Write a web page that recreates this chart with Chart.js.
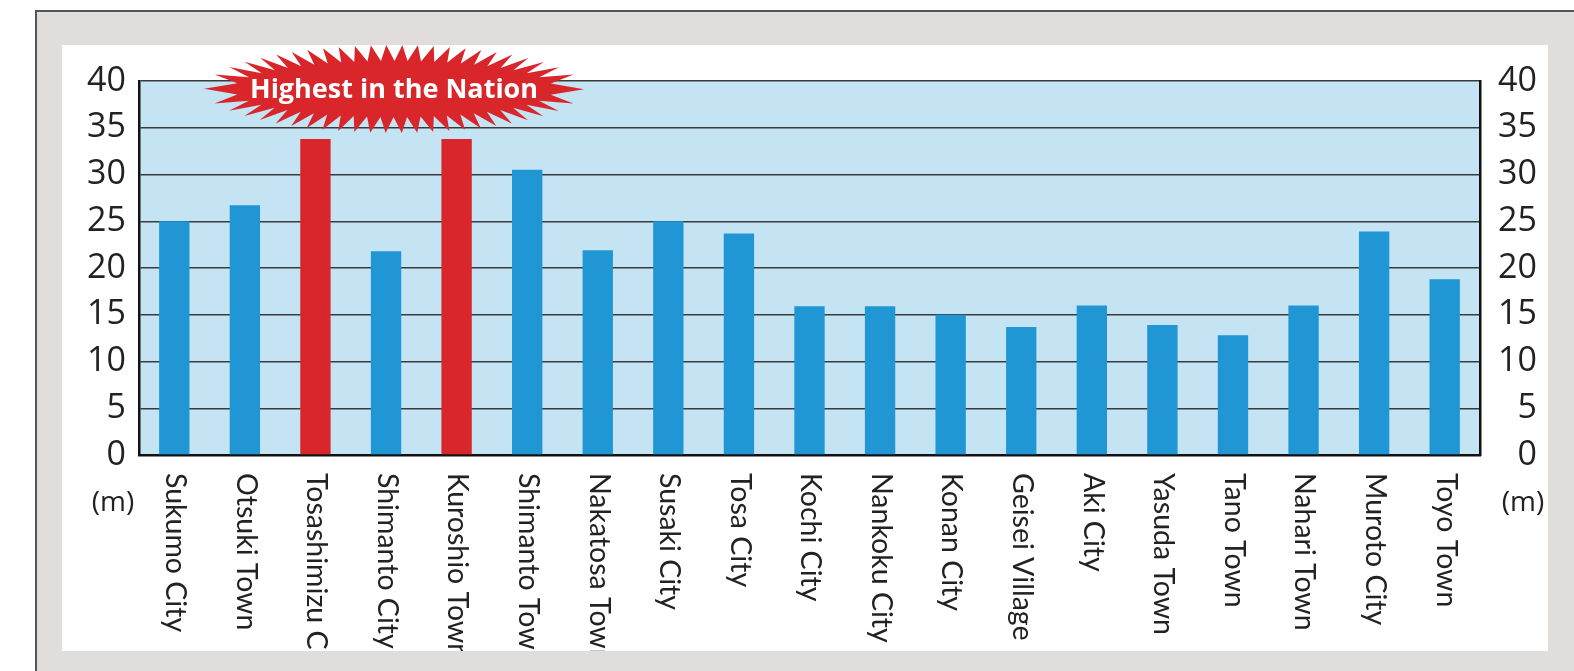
<!DOCTYPE html>
<html>
<head>
<meta charset="utf-8">
<script src="https://cdn.jsdelivr.net/npm/chart.js@4/dist/chart.umd.min.js"></script>
<style>
  html, body { margin: 0; padding: 0; background: #ffffff; width: 1574px; height: 671px; overflow: hidden; }
  #frame { position: absolute; left: 35px; top: 10px; width: 1539px; height: 661px; background: #e1dddb; border-top: 2px solid #555; border-left: 2px solid #555; box-sizing: border-box; }
  #panel { position: absolute; left: 62px; top: 45px; width: 1486px; height: 606px; background: #ffffff; }
  #c { position: absolute; left: 0; top: 0; }
</style>
</head>
<body>
<div id="frame"></div>
<div id="panel"></div>
<canvas id="c" width="1574" height="671"></canvas>
<script>
const categories = ["Sukumo City", "Otsuki Town", "Tosashimizu City", "Shimanto City", "Kuroshio Town",
  "Shimanto Town", "Nakatosa Town", "Susaki City", "Tosa City", "Kochi City", "Nankoku City",
  "Konan City", "Geisei Village", "Aki City", "Yasuda Town", "Tano Town", "Nahari Town",
  "Muroto City", "Toyo Town"];
const tsunamiHeight = [25.0, 26.7, 33.8, 21.8, 33.8, 30.5, 21.9, 25.0, 23.7, 15.9, 15.9,
  15.0, 13.7, 16.0, 13.9, 12.8, 16.0, 23.9, 18.8];
const highestIndices = [2, 4];
const badgeText = "Highest in the Nation";
const unitLabel = "(m)";
const yMin = 0, yMax = 40, yStep = 5;

const BLUE = "#2196d4", RED = "#d9262b";
const barColors = tsunamiHeight.map((v, i) => highestIndices.includes(i) ? RED : BLUE);
const FONT = "'Open Sans', 'Noto Sans', sans-serif";
const LABEL_FONT = "Lato, 'Open Sans', sans-serif";

const bgPlugin = {
  id: "plotBg",
  beforeDraw(chart) {
    const { ctx, chartArea: a } = chart;
    ctx.save();
    ctx.fillStyle = "#c4e4f4";
    ctx.fillRect(a.left, a.top, a.right - a.left, a.bottom - a.top);
    ctx.restore();
  }
};

const labelsPlugin = {
  id: "rotLabels",
  afterDraw(chart) {
    const { ctx } = chart;
    const xs = chart.scales.x;
    const ys = chart.scales.y;
    const base = ys.getPixelForValue(0);
    ctx.save();
    ctx.beginPath();
    ctx.rect(62, 45, 1486, 606);
    ctx.clip();
    ctx.fillStyle = "#222";
    ctx.font = "28.5px " + LABEL_FONT;
    ctx.textAlign = "left";
    ctx.textBaseline = "middle";
    categories.forEach((lab, i) => {
      const x = xs.getPixelForValue(i);
      ctx.save();
      ctx.translate(x + 1, base + 18);
      ctx.rotate(Math.PI / 2);
      ctx.fillText(lab, 0, 0);
      ctx.restore();
    });
    ctx.font = "28px " + FONT;
    ctx.textAlign = "center";
    ctx.fillText(unitLabel, 113, base + 48);
    ctx.fillText(unitLabel, 1523, base + 48);
    ctx.restore();
  }
};

const badgePlugin = {
  id: "badge",
  afterDatasetsDraw(chart) {
    const { ctx } = chart;
    const xs = chart.scales.x, ys = chart.scales.y;
    const cx = (xs.getPixelForValue(highestIndices[0]) + xs.getPixelForValue(highestIndices[1])) / 2 + 8;
    const cy = ys.getPixelForValue(yMax) + 8;
    const n = 50;
    const rxo = 190, ryo = 44, rxi = 160, ryi = 28;
    const M = 2000, cum = [0], pts = [];
    for (let k = 0; k <= M; k++) {
      const t = k / M * Math.PI * 2;
      pts.push(t);
      if (k > 0) {
        const t0 = pts[k - 1];
        const dx = rxi * (Math.cos(t) - Math.cos(t0)), dy = ryi * (Math.sin(t) - Math.sin(t0));
        cum.push(cum[k - 1] + Math.hypot(dx, dy));
      }
    }
    const total = cum[M];
    const tAt = (s) => {
      let lo = 0, hi = M;
      while (hi - lo > 1) { const mid = (lo + hi) >> 1; if (cum[mid] < s) lo = mid; else hi = mid; }
      return pts[hi];
    };
    ctx.save();
    ctx.beginPath();
    for (let k = 0; k < n * 2; k++) {
      const t = tAt(total * k / (n * 2));
      const outer = k % 2 === 0;
      const rx = outer ? rxo : rxi, ry = outer ? ryo : ryi;
      const px = cx + rx * Math.cos(t), py = cy + ry * Math.sin(t);
      if (k === 0) ctx.moveTo(px, py); else ctx.lineTo(px, py);
    }
    ctx.closePath();
    ctx.fillStyle = "#d9262b";
    ctx.fill();
    ctx.fillStyle = "#ffffff";
    ctx.font = "bold 27px " + FONT;
    ctx.textAlign = "center";
    ctx.textBaseline = "middle";
    ctx.fillText(badgeText, cx, cy + 1);
    ctx.restore();
  }
};

new Chart(document.getElementById("c"), {
  type: "bar",
  data: {
    labels: categories,
    datasets: [{
      data: tsunamiHeight,
      backgroundColor: barColors,
      borderWidth: 0,
      barPercentage: 0.43,
      categoryPercentage: 1.0
    }]
  },
  options: {
    responsive: false,
    animation: false,
    layout: { padding: { top: 81, left: 0, right: 37, bottom: 0 } },
    plugins: { legend: { display: false }, tooltip: { enabled: false } },
    scales: {
      x: {
        type: "category",
        grid: { display: false, drawTicks: false },
        border: { display: true, color: "#111", width: 2.5 },
        ticks: { display: false },
        afterFit(s) { s.height = 216; }
      },
      y: {
        position: "left",
        min: yMin, max: yMax,
        ticks: { stepSize: yStep, color: "#222", font: { family: FONT, size: 34 }, padding: 13 },
        grid: { color: "#3a3a3a", lineWidth: 1.5, drawTicks: false },
        border: { display: true, color: "#111", width: 2.5 },
        afterFit(s) { s.width = 139; }
      },
      y2: {
        position: "right",
        min: yMin, max: yMax,
        ticks: { stepSize: yStep, color: "#222", font: { family: FONT, size: 34 }, padding: 16, crossAlign: "far" },
        grid: { display: false, drawTicks: false },
        border: { display: true, color: "#111", width: 2.5 },
        afterFit(s) { s.width = 57; }
      }
    }
  },
  plugins: [bgPlugin, badgePlugin, labelsPlugin]
});
</script>
</body>
</html>
